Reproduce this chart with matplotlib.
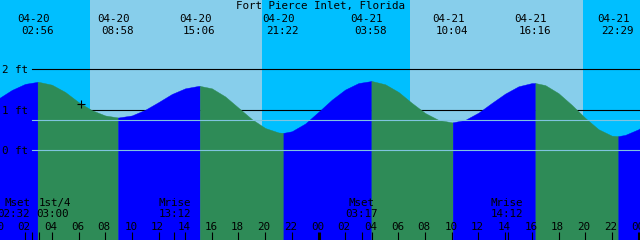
import numpy as np
import matplotlib
matplotlib.use('Agg')
import matplotlib.pyplot as plt
from matplotlib import transforms

title = 'Fort Pierce Inlet, Florida'

# tide level (ft) read every hour, from 04-20 00:00
hours = np.arange(0, 50)
heights = [1.28, 1.49, 1.64, 1.69, 1.62, 1.44, 1.19, 0.99, 0.86, 0.81,
           0.86, 1.00, 1.19, 1.39, 1.53, 1.59, 1.53, 1.33, 1.05, 0.77,
           0.55, 0.44, 0.47, 0.66, 0.95, 1.25, 1.50, 1.66, 1.71, 1.63,
           1.44, 1.17, 0.92, 0.75, 0.69, 0.75, 0.93, 1.17, 1.40, 1.58,
           1.66, 1.61, 1.41, 1.12, 0.80, 0.52, 0.36, 0.38, 0.52, 0.80]

# highs and lows
ext_date = ['04-20', '04-20', '04-20', '04-20', '04-21', '04-21', '04-21', '04-21']
ext_time = ['02:56', '08:58', '15:06', '21:22', '03:58', '10:04', '16:16', '22:29']
ext_level = [1.69, 0.81, 1.59, 0.43, 1.71, 0.69, 1.66, 0.35]
ext_high = [True, False, True, False, True, False, True, False]

sunrise = ['04-20 06:52', '04-21 06:52']
sunset = ['04-20 19:46', '04-21 19:49']

moon_name = ['Mset', '1st/4', 'Mrise', 'Mset', 'Mrise']
moon_when = ['04-20 02:32', '04-20 03:00', '04-20 13:12', '04-21 03:17', '04-21 14:12']

now_when = '04-20 06:11'
now_level = 1.15
mean_level = 0.74
grid_ft = [0, 1, 2]

night_c = '#00bfff'
day_c = '#87ceeb'
flood_c = '#0000ff'
ebb_c = '#2e8b57'
mark_c = '#80c4e0'


def hrs(stamp):
    date, hm = stamp.split()
    h, m = hm.split(':')
    return 24 * (int(date[-2:]) - 20) + int(h) + int(m) / 60


plt.rcParams['font.family'] = 'DejaVu Sans Mono'
plt.rcParams['font.size'] = 7.8

W, H = 640, 240
fig = plt.figure(figsize=(W / 100, H / 100), dpi=100)
ax = fig.add_axes([0, 0, 1, 1])
ax.axis('off')
pxh = W / 48
ax.set_xlim(1.5 / pxh, 48 + 1.5 / pxh)
ax.set_ylim(-(H - 150.3) / 40.5, 150.3 / 40.5)


def top(p):
    return 1 - p / H


xt = ax.get_xaxis_transform()
yt = ax.get_yaxis_transform()


def sx(dx, base=xt, dy=0):
    return transforms.offset_copy(base, fig=fig, x=dx, y=dy, units='dots')


# sky
ax.axvspan(-2, 50, color=night_c, lw=0, zorder=0)
for a, b in zip(sunrise, sunset):
    ax.axvspan(hrs(a), hrs(b), color=day_c, lw=0, zorder=0)

# foot lines behind the water
for lev in grid_ft[1:]:
    ax.axhline(lev, xmin=32 / W, xmax=1, color='k', lw=0.8, zorder=1)

# water, ebb in green and flood in blue
ext_t = [hrs(d + ' ' + t) for d, t in zip(ext_date, ext_time)]
tt = np.concatenate([hours, ext_t])
hh = np.concatenate([heights, ext_level])
order = np.argsort(tt)
tt, hh = tt[order], hh[order]
bounds = [tt[0]] + ext_t + [tt[-1]]
bottom = ax.get_ylim()[0]
for k in range(len(bounds) - 1):
    m = (tt >= bounds[k]) & (tt <= bounds[k + 1])
    rising = ext_high[k] if k < len(ext_high) else not ext_high[-1]
    c = flood_c if rising else ebb_c
    ax.fill_between(tt[m], hh[m], bottom, color=c, lw=0.3, ec=c, zorder=2)

for lev in [mean_level, grid_ft[0]]:
    ax.axhline(lev, xmin=32 / W, xmax=1, color=mark_c, lw=0.8, zorder=3)

for lev in grid_ft:
    ax.text(2 / W, lev, f'{lev} ft', transform=sx(0, yt, -4), ha='left',
            va='baseline', zorder=5)

ax.plot(hrs(now_when), now_level, marker='+', color='k', ms=6, mew=0.8, zorder=5)

# title and high/low times
ax.text(0.5, top(9.3), title, transform=ax.transAxes, ha='center', va='baseline')
for t, d, s in zip(ext_t, ext_date, ext_time):
    ax.text(t, top(21.7), d, transform=sx(-4.5), ha='center', va='baseline')
    ax.text(t, top(34.3), s, transform=sx(-0.5), ha='center', va='baseline')

# hour axis at the bottom
tick_h = 8.3 / H
for h in range(0, 49, 2):
    ax.text(h, top(230), f'{h % 24:02d}', transform=sx(-1), ha='center',
            va='baseline', zorder=5)
    if h % 24:
        ax.vlines(h, 0, tick_h, transform=xt, colors='k', lw=0.8, zorder=4)
    else:
        ax.vlines(h, 0, tick_h, transform=xt, colors='k', lw=2.2, zorder=4)

# moon events
moon_dx = [(-15, -19), (16, 14), (0, 0), (-1, -1), (-1, -1)]
for name, when, (dn, dt) in zip(moon_name, moon_when, moon_dx):
    t = hrs(when)
    ax.vlines(t, 0, tick_h, transform=xt, colors='k', lw=0.8, zorder=4)
    ax.text(t, top(206), name, transform=sx(dn), ha='center', va='baseline', zorder=5)
    ax.text(t, top(217.3), when.split()[1], transform=sx(dt), ha='center',
            va='baseline', zorder=5)

fig.savefig('out.png', dpi=100)
